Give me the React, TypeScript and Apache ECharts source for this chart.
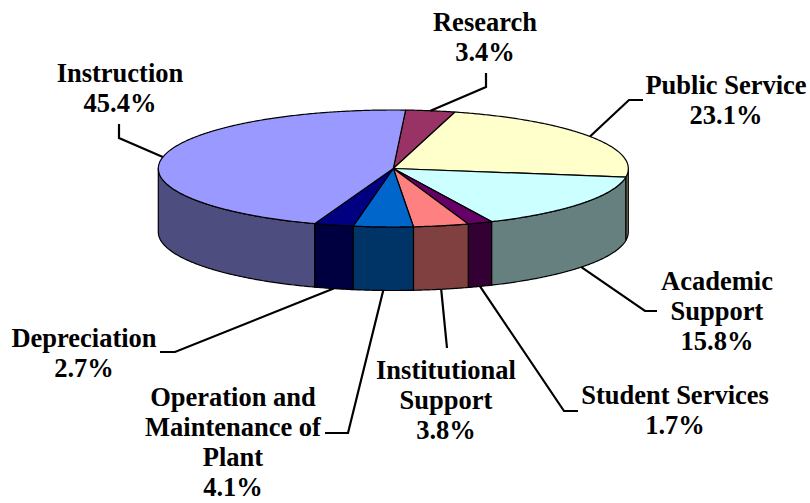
import React, { useEffect, useRef } from "react";
import * as echarts from "echarts";

// ---- data (pie order, clockwise from 12 o'clock) ----
const categories = [
  "Research",
  "Public Service",
  "Academic Support",
  "Student Services",
  "Institutional Support",
  "Operation and Maintenance of Plant",
  "Depreciation",
  "Instruction",
];
const labelNames = [
  "Research",
  "Public Service",
  "Academic\nSupport",
  "Student Services",
  "Institutional\nSupport",
  "Operation and\nMaintenance of\nPlant",
  "Depreciation",
  "Instruction",
];
const values = [3.4, 23.1, 15.8, 1.7, 3.8, 4.1, 2.7, 45.4];
const colors = ["#993366", "#FFFFCC", "#CCFFFF", "#660066", "#FF8080", "#0066CC", "#000080", "#9999FF"];

// ---- layout (pixels) ----
const CX = 393.3;
const CY = 168.5;
const RX = 235;
const RY = 58.5;
const DEPTH = 63.5;
const START = 3; // degrees clockwise from 12 o'clock
const labelPos: [number, number][] = [
  [485, 37],
  [726, 100],
  [717, 311],
  [675, 410],
  [446, 400],
  [233, 442],
  [84, 353],
  [120, 88],
];
const leaderElbows: [number, number][][] = [
  [[486, 87], [486, 73]],
  [[629, 100], [643, 100]],
  [[645, 311], [657, 311]],
  [[564, 411], [578, 411]],
  [[447, 348]],
  [[348, 433], [325, 433]],
  [[175, 352], [160, 352]],
  [[119, 138], [119, 124]],
];

const FONT = "'Liberation Serif', 'Times New Roman', serif";

function darken(hex: string, f: number) {
  const n = parseInt(hex.slice(1), 16);
  const r = Math.round(((n >> 16) & 255) * f);
  const g = Math.round(((n >> 8) & 255) * f);
  const b = Math.round((n & 255) * f);
  return `rgb(${r},${g},${b})`;
}

function pt(deg: number, dy = 0): [number, number] {
  const t = (deg * Math.PI) / 180;
  return [CX + RX * Math.sin(t), CY - RY * Math.cos(t) + dy];
}

function arc(a0: number, a1: number, dy = 0): [number, number][] {
  const pts: [number, number][] = [];
  const n = Math.max(2, Math.ceil(Math.abs(a1 - a0) / 0.5));
  for (let k = 0; k <= n; k++) pts.push(pt(a0 + ((a1 - a0) * k) / n, dy));
  return pts;
}

export default function App() {
  const ref = useRef<HTMLDivElement>(null);
  useEffect(() => {
    if (!ref.current) return;
    const chart = echarts.init(ref.current, undefined, { renderer: "svg" });
    const total = values.reduce((s, v) => s + v, 0);
    const cum: number[] = [];
    values.reduce((s, v, i) => {
      cum[i] = s;
      return s + v;
    }, 0);

    const renderItem = (params: any, api: any) => {
      const i = params.dataIndex;
      const v = api.value(0) as number;
      const a0 = START + (cum[i] / total) * 360;
      const a1 = a0 + (v / total) * 360;
      const children: any[] = [];
      // front wall: visible where angle in [90, 270] (mod 360)
      const ranges: [number, number][] = [];
      for (const off of [0, 360]) {
        const s = Math.max(a0, 90 + off);
        const e = Math.min(a1, 270 + off);
        if (e > s) ranges.push([s, e]);
      }
      for (const [s, e] of ranges) {
        const pts = [...arc(s, e, 0), ...arc(e, s, DEPTH)];
        children.push({
          type: "polygon",
          z2: 1,
          shape: { points: pts },
          style: { fill: darken(colors[i], 0.5), stroke: "#000", lineWidth: 1.2, lineJoin: "round" },
        });
      }
      // top face
      children.push({
        type: "polygon",
        z2: 2,
        shape: { points: [[CX, CY], ...arc(a0, a1, 0)] },
        style: { fill: colors[i], stroke: "#000", lineWidth: 1.2, lineJoin: "round" },
      });
      // leader line
      const mid = (a0 + a1) / 2;
      const mm = ((mid % 360) + 360) % 360;
      const front = mm > 90 && mm < 270;
      const anchor = pt(mid, front ? DEPTH : 0);
      children.push({
        type: "polyline",
        z2: 3,
        shape: { points: [anchor, ...leaderElbows[i]] },
        style: { stroke: "#000", lineWidth: 2.2, fill: null },
      });
      // label
      const pct = ((v / total) * 100).toFixed(1) + "%";
      children.push({
        type: "text",
        z2: 4,
        style: {
          text: labelNames[i] + "\n" + pct,
          x: labelPos[i][0],
          y: labelPos[i][1],
          align: "center",
          verticalAlign: "middle",
          fontFamily: FONT,
          fontSize: 26.5,
          fontWeight: "bold",
          lineHeight: 30,
          fill: "#000",
        },
      });
      return { type: "group", children };
    };

    chart.setOption({
      animation: false,
      backgroundColor: "#fff",
      series: [
        {
          type: "custom",
          coordinateSystem: "none",
          renderItem,
          data: values.map((v, i) => ({ name: categories[i], value: [v] })),
        },
      ],
    });
    return () => chart.dispose();
  }, []);
  return (
    <div
      ref={ref}
      style={{ position: "fixed", left: 0, top: 0, width: 810, height: 503 }}
    />
  );
}
